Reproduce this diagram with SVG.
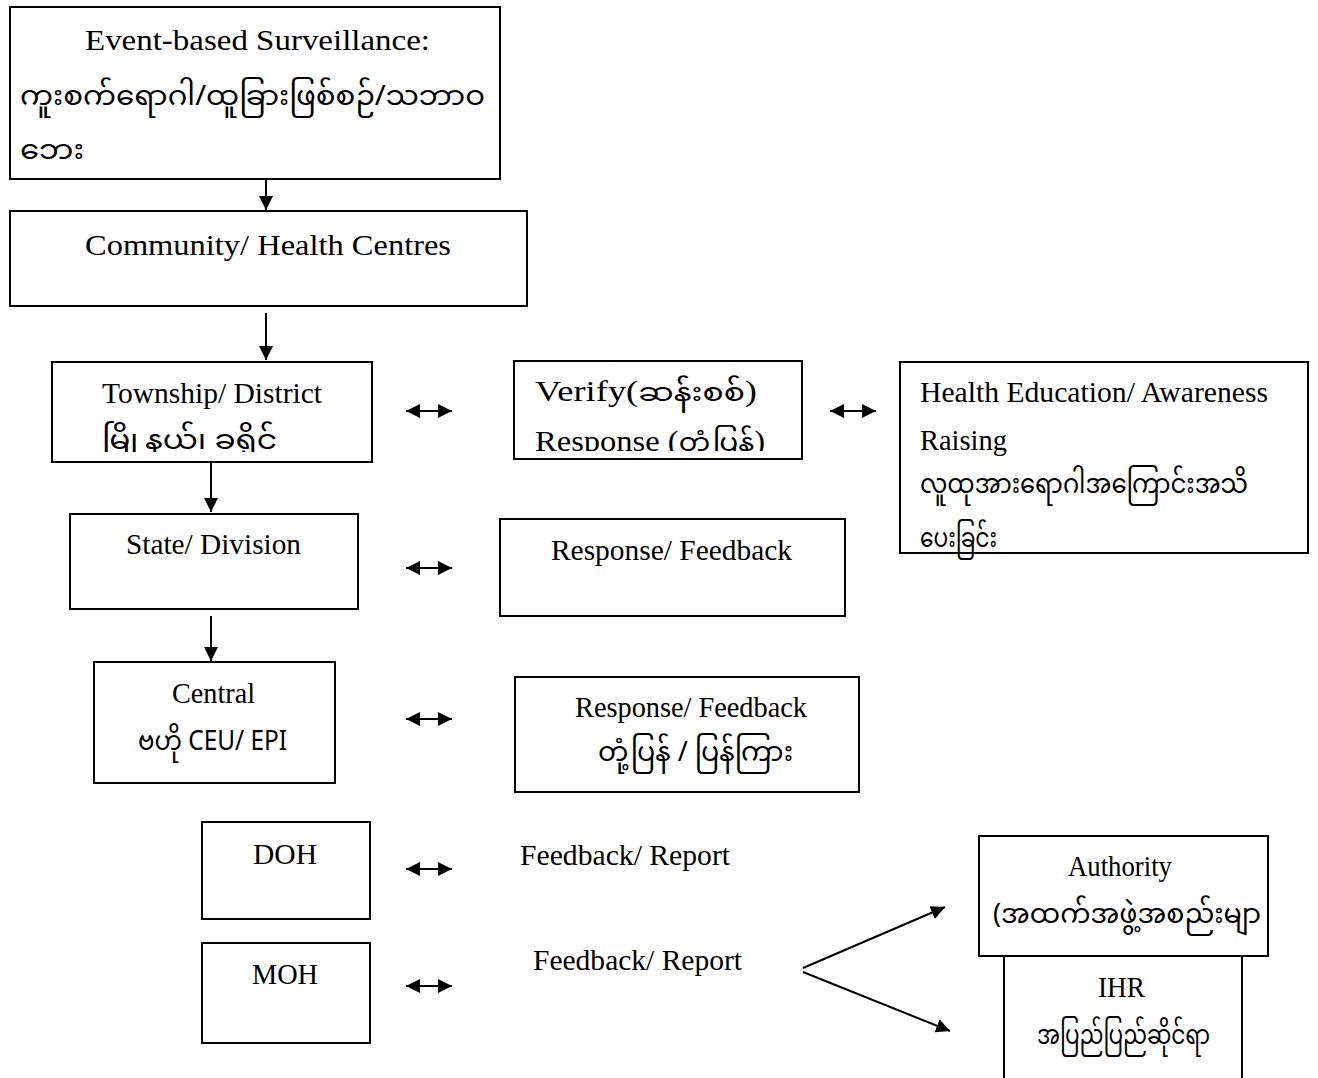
<svg xmlns="http://www.w3.org/2000/svg" width="1318" height="1078" viewBox="0 0 1318 1078">
<style>
.box{fill:#fff;stroke:#000;stroke-width:2}
.en{font-family:"Liberation Serif","Times New Roman",serif;font-size:29px;fill:#000}
.my{font-family:"Noto Sans Myanmar","Padauk","Myanmar3","Noto Sans",sans-serif;font-size:27px;fill:#000}
.mi{font-family:"Noto Sans Myanmar","Padauk","Myanmar3","Noto Sans",sans-serif;font-size:25px}
.ln{stroke:#000;stroke-width:2;fill:none}
</style>
<defs>
<marker id="ah" viewBox="0 0 10 10" refX="10" refY="5" markerWidth="7" markerHeight="7" markerUnits="strokeWidth" orient="auto-start-reverse">
<path d="M0,0 L10,5 L0,10 z" fill="#000"/>
</marker>
<clipPath id="clipT"><rect x="52" y="362" width="320" height="90"/></clipPath>
<clipPath id="clipV"><rect x="514" y="361" width="288" height="90"/></clipPath>
</defs>

<g id="connectors">
<line class="ln" x1="266" y1="165" x2="266" y2="210" marker-end="url(#ah)"/>
<line class="ln" x1="266" y1="313" x2="266" y2="360" marker-end="url(#ah)"/>
<line class="ln" x1="211" y1="463" x2="211" y2="512" marker-end="url(#ah)"/>
<line class="ln" x1="211" y1="616" x2="211" y2="661" marker-end="url(#ah)"/>
<line class="ln" x1="406" y1="411" x2="452" y2="411" marker-start="url(#ah)" marker-end="url(#ah)"/>
<line class="ln" x1="830" y1="411" x2="876" y2="411" marker-start="url(#ah)" marker-end="url(#ah)"/>
<line class="ln" x1="406" y1="568" x2="452" y2="568" marker-start="url(#ah)" marker-end="url(#ah)"/>
<line class="ln" x1="406" y1="719" x2="452" y2="719" marker-start="url(#ah)" marker-end="url(#ah)"/>
<line class="ln" x1="406" y1="869" x2="452" y2="869" marker-start="url(#ah)" marker-end="url(#ah)"/>
<line class="ln" x1="406" y1="986" x2="452" y2="986" marker-start="url(#ah)" marker-end="url(#ah)"/>
<line class="ln" x1="803" y1="968" x2="945" y2="907" marker-end="url(#ah)"/>
<line class="ln" x1="803" y1="972" x2="950" y2="1031" marker-end="url(#ah)"/>
</g>

<g id="n-ebs">
<rect class="box" x="10" y="7" width="490" height="172"/>
<text class="en" x="85" y="50" textLength="345" lengthAdjust="spacingAndGlyphs">Event-based Surveillance:</text>
<text class="my" x="20" y="105" font-size="25" textLength="465" lengthAdjust="spacingAndGlyphs">ကူးစက်ရောဂါ/ထူခြားဖြစ်စဉ်/သဘာဝ</text>
<text class="my" x="20" y="159" font-size="24" textLength="64" lengthAdjust="spacingAndGlyphs">ဘေး</text>
</g>

<g id="n-community">
<rect class="box" x="10" y="211" width="517" height="95"/>
<text class="en" x="85" y="255" textLength="366" lengthAdjust="spacingAndGlyphs">Community/ Health Centres</text>
</g>

<g id="n-township">
<rect class="box" x="52" y="362" width="320" height="100"/>
<text class="en" x="102" y="403" textLength="220" lengthAdjust="spacingAndGlyphs">Township/ District</text>
<text class="my" x="102" y="449" textLength="175" lengthAdjust="spacingAndGlyphs" clip-path="url(#clipT)">မြို့နယ်၊ ခရိုင်</text>
</g>

<g id="n-verify">
<rect class="box" x="514" y="361" width="288" height="98"/>
<text class="en" x="535" y="401" textLength="222" lengthAdjust="spacingAndGlyphs">Verify(<tspan class="mi">ဆန်းစစ်</tspan>)</text>
<text class="en" x="535" y="451" textLength="230" lengthAdjust="spacingAndGlyphs" clip-path="url(#clipV)">Response (<tspan class="mi">တုံ့ပြန်</tspan>)</text>
</g>

<g id="n-healthed">
<rect class="box" x="900" y="362" width="408" height="191"/>
<text class="en" x="920" y="402" textLength="348" lengthAdjust="spacingAndGlyphs">Health Education/ Awareness</text>
<text class="en" x="920" y="450" textLength="87" lengthAdjust="spacingAndGlyphs">Raising</text>
<text class="my" x="920" y="493" font-size="23" textLength="328" lengthAdjust="spacingAndGlyphs">လူထုအားရောဂါအကြောင်းအသိ</text>
<text class="my" x="920" y="547" font-size="22" textLength="77" lengthAdjust="spacingAndGlyphs">ပေးခြင်း</text>
</g>

<g id="n-state">
<rect class="box" x="70" y="514" width="288" height="95"/>
<text class="en" x="126" y="554" textLength="175" lengthAdjust="spacingAndGlyphs">State/ Division</text>
</g>

<g id="n-resp1">
<rect class="box" x="500" y="519" width="345" height="97"/>
<text class="en" x="551" y="560" textLength="241" lengthAdjust="spacingAndGlyphs">Response/ Feedback</text>
</g>

<g id="n-central">
<rect class="box" x="94" y="662" width="241" height="121"/>
<text class="en" x="172" y="703" textLength="83" lengthAdjust="spacingAndGlyphs">Central</text>
<text class="my" x="138" y="750" font-size="24" textLength="149" lengthAdjust="spacingAndGlyphs">ဗဟို CEU/ EPI</text>
</g>

<g id="n-resp2">
<rect class="box" x="515" y="677" width="344" height="115"/>
<text class="en" x="575" y="717" textLength="232" lengthAdjust="spacingAndGlyphs">Response/ Feedback</text>
<text class="my" x="598" y="761" textLength="195" lengthAdjust="spacingAndGlyphs">တုံ့ပြန် / ပြန်ကြား</text>
</g>

<g id="n-doh">
<rect class="box" x="202" y="822" width="168" height="97"/>
<text class="en" x="253" y="864" textLength="64" lengthAdjust="spacingAndGlyphs">DOH</text>
</g>
<text class="en" x="520" y="865" textLength="210" lengthAdjust="spacingAndGlyphs">Feedback/ Report</text>

<g id="n-moh">
<rect class="box" x="202" y="943" width="168" height="100"/>
<text class="en" x="252" y="984" textLength="66" lengthAdjust="spacingAndGlyphs">MOH</text>
</g>
<text class="en" x="533" y="970" textLength="209" lengthAdjust="spacingAndGlyphs">Feedback/ Report</text>

<g id="n-authority">
<rect class="box" x="979" y="836" width="289" height="120"/>
<text class="en" x="1068" y="876" textLength="104" lengthAdjust="spacingAndGlyphs">Authority</text>
<text class="my" x="993" y="923" textLength="268" lengthAdjust="spacingAndGlyphs">(အထက်အဖွဲ့အစည်းမျာ</text>
</g>

<g id="n-ihr">
<path class="ln" d="M1004,1080 V956 H1242 V1080"/>
<text class="en" x="1098" y="997" textLength="47" lengthAdjust="spacingAndGlyphs">IHR</text>
<text class="my" x="1037" y="1044" font-size="23" textLength="173" lengthAdjust="spacingAndGlyphs">အပြည်ပြည်ဆိုင်ရာ</text>
</g>
</svg>
